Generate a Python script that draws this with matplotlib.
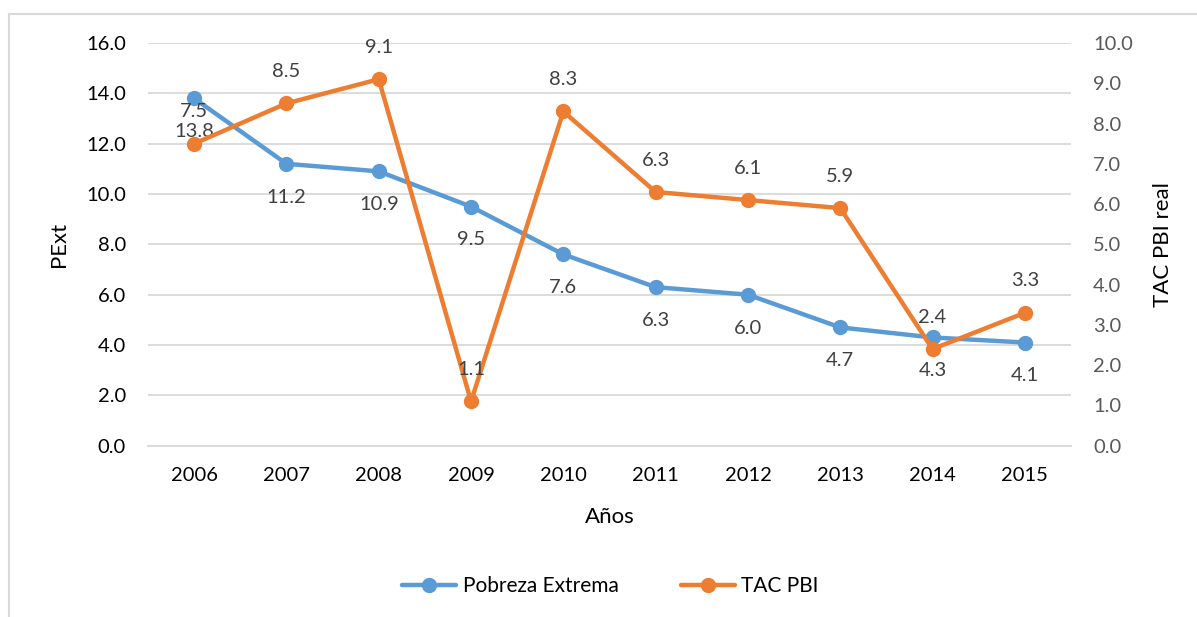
import matplotlib.pyplot as plt
from matplotlib.lines import Line2D

years = ['2006', '2007', '2008', '2009', '2010', '2011', '2012', '2013', '2014', '2015']
pobreza = [13.8, 11.2, 10.9, 9.5, 7.6, 6.3, 6.0, 4.7, 4.3, 4.1]
tac_pbi = [7.5, 8.5, 9.1, 1.1, 8.3, 6.3, 6.1, 5.9, 2.4, 3.3]

blue = '#5B9BD5'
orange = '#ED7D31'
plt.rcParams['font.family'] = ['Lato', 'DejaVu Sans']

fig = plt.figure(figsize=(11.97, 6.17), dpi=100)
# outer chart frame: only left and top edges show in the crop
fx, fy = 9 / 1197, 1 - 14 / 617
fig.lines.append(Line2D([fx, fx], [0, fy], transform=fig.transFigure, color='#D9D9D9', lw=1.5))
fig.lines.append(Line2D([fx, 1], [fy, fy], transform=fig.transFigure, color='#D9D9D9', lw=1.5))

ax = fig.add_axes([148 / 1197, 1 - 445.7 / 617, 923 / 1197, 402.7 / 617])
ax2 = ax.twinx()

x = list(range(len(years)))
l1, = ax.plot(x, pobreza, color=blue, lw=3.2, marker='o', ms=10, label='Pobreza Extrema',
              solid_capstyle='round')
l2, = ax2.plot(x, tac_pbi, color=orange, lw=3.2, marker='o', ms=10, label='TAC PBI',
               solid_capstyle='round')

for i, v in enumerate(pobreza):
    ax.annotate(f'{v:.1f}', (i, v), xytext=(0, -24), textcoords='offset points',
                ha='center', va='center', fontsize=14.5, color='#404040')
for i, v in enumerate(tac_pbi):
    ax2.annotate(f'{v:.1f}', (i, v), xytext=(0, 23), textcoords='offset points',
                 ha='center', va='center', fontsize=14.5, color='#404040')

ax.set_xlim(-0.5, len(years) - 0.5)
ax.set_ylim(0, 16)
ax2.set_ylim(0, 10)
ax.set_yticks(range(0, 17, 2))
ax.set_yticklabels([f'{v:.1f}' for v in range(0, 17, 2)])
ax2.set_yticks(range(0, 11))
ax2.set_yticklabels([f'{v:.1f}' for v in range(0, 11)])
ax.set_xticks(x)
ax.set_xticklabels(years)
ax.grid(axis='y', color='#D9D9D9', lw=1.3)
ax.set_axisbelow(True)

for a in (ax, ax2):
    for s in a.spines.values():
        s.set_visible(False)
ax.spines['bottom'].set_visible(True)
ax.spines['bottom'].set_color('#D9D9D9')
ax.spines['bottom'].set_linewidth(1.3)

ax.tick_params(axis='y', length=0, pad=16, labelsize=14.5, labelcolor='black')
ax.tick_params(axis='x', length=0, pad=15, labelsize=14.5, labelcolor='black')
ax2.tick_params(axis='y', length=0, pad=16, labelsize=14.5, labelcolor='#595959')

ax.set_ylabel('PExt', fontsize=16, labelpad=12)
ax.set_xlabel('Años', fontsize=16, labelpad=17)
ax2.set_ylabel('TAC PBI real', fontsize=16, labelpad=14)

fig.legend(handles=[l1, l2], loc='center', bbox_to_anchor=(0.51, 1 - 586 / 617), ncol=2,
           frameon=False, fontsize=15, handlelength=2.6, columnspacing=3.0, handletextpad=0.3)

fig.savefig('out.png', dpi=100)
